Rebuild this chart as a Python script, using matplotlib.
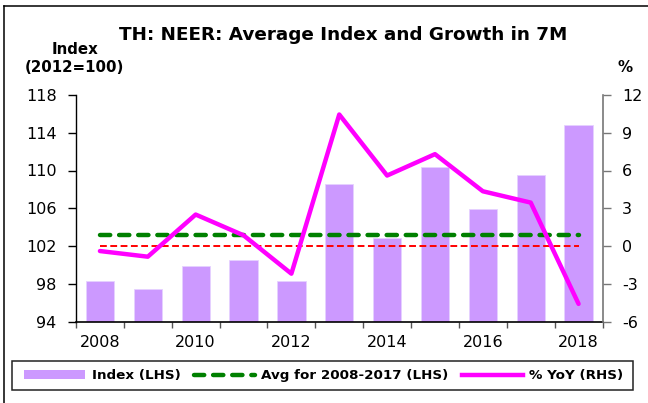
import matplotlib
matplotlib.use('Agg')
import matplotlib.pyplot as plt
from matplotlib.lines import Line2D
from matplotlib.patches import Rectangle, Patch

years = [2008, 2009, 2010, 2011, 2012, 2013, 2014, 2015, 2016, 2017, 2018]
index_lhs = [98.3, 97.4, 99.85, 100.55, 98.25, 108.6, 102.9, 110.4, 105.9, 109.5, 114.85]
yoy_rhs = [-0.4, -0.85, 2.5, 0.85, -2.2, 10.45, 5.6, 7.3, 4.35, 3.45, -4.6]
avg_2008_2017 = 103.15
year_labels = ['2008', '2010', '2012', '2014', '2016', '2018']

plt.rcParams['font.family'] = ['DejaVu Sans']
plt.rcParams['axes.unicode_minus'] = False

W, H = 648, 403
fig = plt.figure(figsize=(W / 100, H / 100), dpi=100)

def fx(px):
    return px / W

def fy(py):
    return 1 - py / H

ax = fig.add_axes([fx(76), fy(321.5), fx(602.5) - fx(76), fy(95) - fy(321.5)])
ax2 = ax.twinx()

x = list(range(len(years)))

# bars + average line on the left axis
ax.bar(x, index_lhs, width=0.59, color='#CC99FF', edgecolor='#E6D2FF', linewidth=0.6, zorder=2)
ax.plot([x[0], x[-2] + 1], [avg_2008_2017, avg_2008_2017], color='#008000', linewidth=3.2,
        dashes=(2.3, 2.0), dash_capstyle='round', zorder=3)
ax.set_xlim(-0.5, len(years) - 0.5)
ax.set_ylim(94, 118)
ax.set_yticks(range(94, 119, 4))

# zero line and growth on the right axis
ax2.plot([x[0], x[-1]], [0, 0], color='#FF0000', linewidth=1.4, dashes=(3.5, 1.8), zorder=2)
ax2.plot(x, yoy_rhs, color='#FF00FF', linewidth=3.2, solid_capstyle='round',
         solid_joinstyle='round', zorder=4)
ax2.set_ylim(-6, 12)
ax2.set_yticks(range(-6, 13, 3))

# x ticks at boundaries, labels at centres of even years
ax.set_xticks([i - 0.5 for i in range(len(years) + 1)])
ax.set_xticklabels([])
ax.set_xticks([i for i, y in enumerate(years) if y % 2 == 0], minor=True)
ax.set_xticklabels(year_labels, minor=True)
ax.tick_params(axis='x', which='major', direction='out', length=4.5, width=1, color='#555555')
ax.tick_params(axis='x', which='minor', length=0, pad=10, labelsize=11.5)
ax.tick_params(axis='y', direction='out', length=6, width=1, pad=8, labelsize=11.5)
ax2.tick_params(axis='y', direction='out', length=6, width=1, pad=8, labelsize=11.5,
                color='#777777')

for s in ['top', 'right']:
    ax.spines[s].set_visible(False)
for s in ['top', 'left', 'bottom']:
    ax2.spines[s].set_visible(False)
ax.spines['left'].set_linewidth(1)
ax.spines['bottom'].set_linewidth(1.2)
ax2.spines['right'].set_color('#777777')
ax2.spines['right'].set_linewidth(1.2)

# titles
fig.text(fx(343.5), fy(40), 'TH: NEER: Average Index and Growth in 7M', ha='center',
         va='baseline', fontsize=13.2, fontweight='bold')
fig.text(fx(75), fy(54), 'Index', ha='center', va='baseline', fontsize=10.8, fontweight='bold')
fig.text(fx(74.5), fy(72), '(2012=100)', ha='center', va='baseline', fontsize=10.8,
         fontweight='bold')
fig.text(fx(625), fy(72), '%', ha='center', va='baseline', fontsize=10.8, fontweight='bold')

# outer chart border (left and top)
fig.add_artist(Line2D([fx(4), fx(4)], [fy(6), 0], color='black', linewidth=1.1))
fig.add_artist(Line2D([fx(4), 1], [fy(6), fy(6)], color='black', linewidth=1.1))

# legend
fig.add_artist(Rectangle((fx(12), fy(390)), fx(633) - fx(12), fy(361) - fy(390),
                         transform=fig.transFigure, fill=False, edgecolor='#222222',
                         linewidth=1.1))
handles = [
    Patch(facecolor='#CC99FF', edgecolor='none', label='Index (LHS)'),
    Line2D([], [], color='#008000', linewidth=3.2, dashes=(2.3, 2.0), dash_capstyle='round',
           label='Avg for 2008-2017 (LHS)'),
    Line2D([], [], color='#FF00FF', linewidth=3.2, label='% YoY (RHS)'),
]
fig.legend(handles=handles, loc='center', bbox_to_anchor=(fx(324), fy(376)), ncol=3,
           frameon=False, prop={'weight': 'bold', 'size': 9.7}, handlelength=4.5,
           handleheight=0.6, handletextpad=0.5, columnspacing=1.0, borderpad=0)

fig.savefig('out.png', dpi=100)
